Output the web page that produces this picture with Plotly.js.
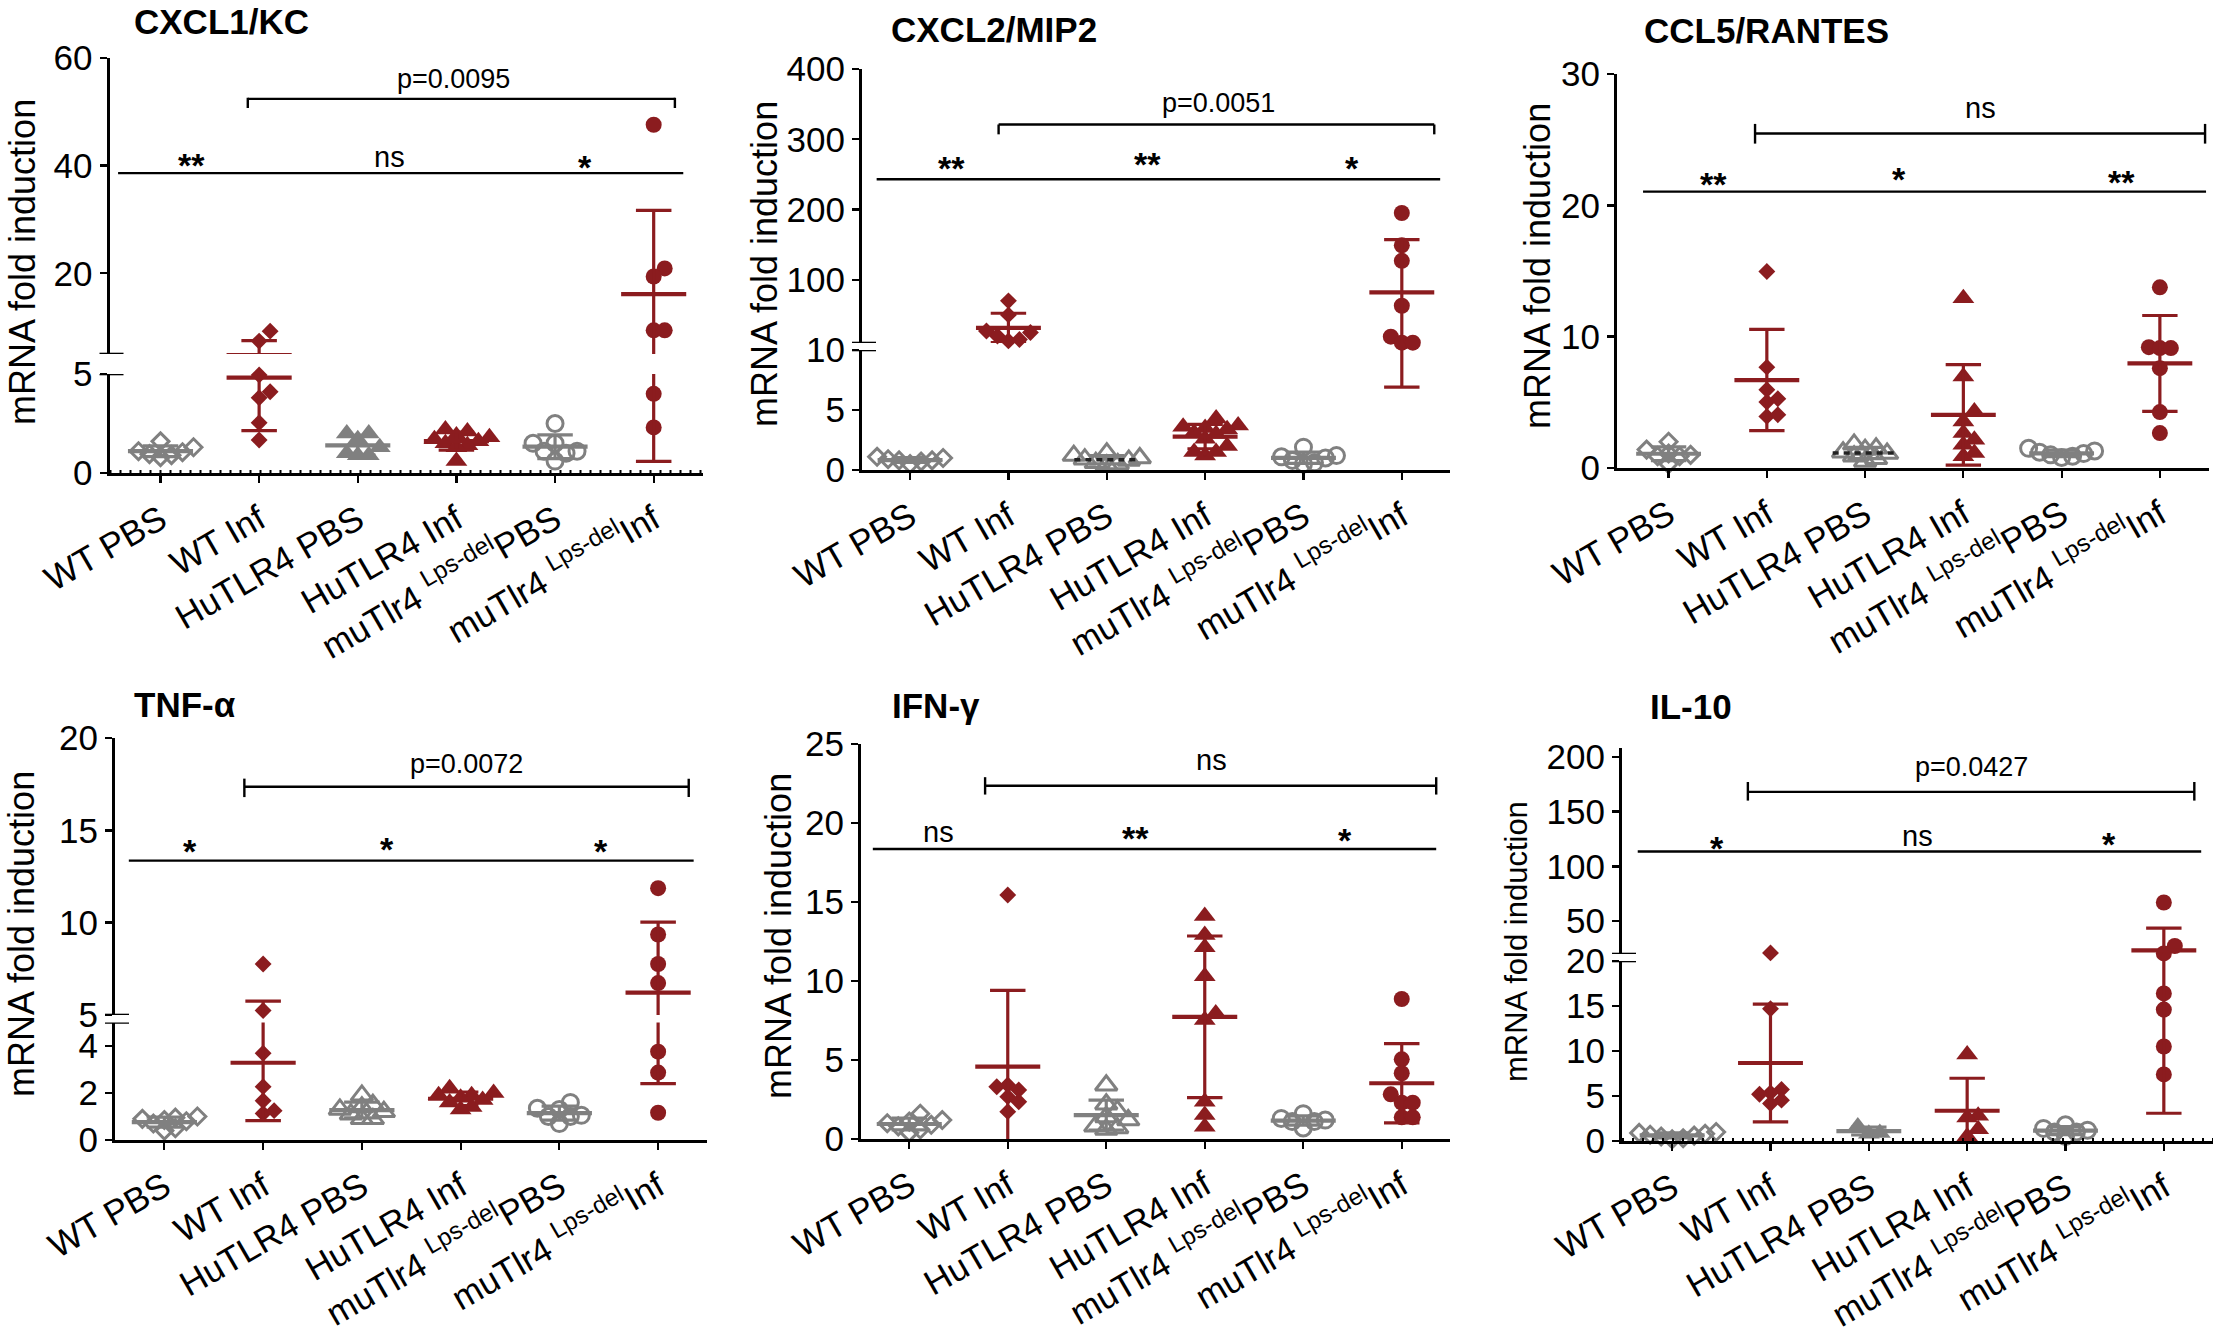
<!DOCTYPE html>
<html>
<head>
<meta charset="utf-8">
<script src="https://cdn.plot.ly/plotly-3.0.1.min.js"></script>
<style>
  html, body { margin: 0; padding: 0; background: #fff; }
  #grafico { width: 2215px; height: 1338px; }
</style>
</head>
<body>
<div id="grafico"></div>
<script>
/* ===================================================================
   Expresion de citocinas (mRNA fold induction) — 6 paneles tipo Prism
   =================================================================== */

const ANCHO = 2215, ALTO = 1338;
const ROJO = "#8b1c1f";
const GRIS = "#808080";
const FUENTE = "'Liberation Sans', Arial, sans-serif";

// ---------------------------------------------------------------------
// DATOS
// ---------------------------------------------------------------------
const grupos = ["WT PBS", "WT Inf", "HuTLR4 PBS", "HuTLR4 Inf", "muTlr4 Lps-del PBS", "muTlr4 Lps-del Inf"];
const etiquetasX = ["WT PBS", "WT Inf", "HuTLR4 PBS", "HuTLR4 Inf",
  "muTlr4 <sup>Lps-del</sup>PBS", "muTlr4 <sup>Lps-del</sup>Inf"];
const tituloY = "mRNA fold induction";

const cxcl1 = [
  [1.6, 1.3, 1.05, 1.1, 0.95, 0.8, 0.9],
  [9.25, 7.4, 4.95, 4.1, 3.8, 2.54, 1.67],
  [1.7, 2.0, 2.0, 1.0, 0.9, 0.9, 1.3],
  [2.2, 2.1, 1.9, 1.8, 1.7, 1.6, 1.5, 1.4, 1.3, 0.6],
  [2.5, 1.5, 1.5, 1.0, 1.1, 1.1, 0.6],
  [47.6, 20.9, 19.4, 9.4, 9.4, 4.0, 2.3],
];
const cxcl2 = [
  [1.1, 1.0, 0.9, 0.8, 0.8, 0.7, 0.5],
  [70, 50, 27, 25, 20, 15, 13],
  [1.4, 1.2, 1.0, 0.9, 0.8, 0.6, 0.5, 0.4],
  [4.3, 2.6, 1.2, 3.5, 2.0, 3.7, 1.5, 3.4, 1.5, 3.1, 3.0, 3.6],
  [1.9, 1.2, 1.1, 1.0, 0.8, 0.6, 0.5],
  [195, 149, 127, 63, 19, 10.5, 10.5],
];
const ccl5 = [
  [2.0, 1.4, 1.1, 0.9, 1.0, 0.9, 0.3],
  [14.96, 7.68, 5.96, 5.27, 5.02, 3.93, 4.06],
  [1.8, 1.5, 1.4, 1.2, 1.1, 0.9, 0.7, 0.5],
  [12.93, 6.97, 4.31, 3.55, 2.66, 2.15, 1.77, 0.89, 1.14],
  [1.5, 1.3, 1.2, 1.1, 1.0, 0.9, 0.8],
  [13.76, 9.2, 9.13, 9.13, 7.6, 4.26, 2.66],
];
const tnf = [
  [1.0, 0.95, 0.9, 0.85, 0.8, 0.7, 0.5, 0.4],
  [7.76, 5.24, 3.69, 2.27, 1.67, 1.13, 1.25],
  [1.9, 1.5, 1.4, 1.3, 1.2, 1.1, 0.9, 0.9],
  [2.2, 2.0, 1.9, 1.9, 1.8, 1.7, 1.6, 1.4, 1.3],
  [1.6, 1.35, 1.3, 1.05, 1.0, 1.0, 0.7],
  [11.87, 9.36, 7.76, 6.73, 3.76, 2.87, 1.16],
];
const ifng = [
  [1.6, 1.2, 1.1, 1.0, 0.9, 0.8, 0.6, 0.4],
  [15.44, 3.42, 3.31, 3.1, 2.68, 2.36, 1.73],
  [3.4, 2.2, 1.8, 1.4, 1.2, 0.8, 0.7, 0.6],
  [14.11, 12.91, 12.13, 10.3, 7.53, 7.95, 2.36, 1.52, 0.78],
  [1.6, 1.3, 1.1, 1.1, 1.2, 0.7],
  [8.86, 5.04, 4.16, 2.83, 2.3, 2.3, 1.37, 1.37],
];
const il10 = [
  [1.0, 0.9, 0.8, 0.7, 0.6, 0.5, 0.3, 0.2],
  [21, 14.7, 5.72, 5.35, 5.2, 4.54, 4.17],
  [1.6, 0.9, 0.8],
  [9.6, 2.8, 2.6, 1.3, 0.5],
  [1.8, 1.4, 1.2, 1.0, 1.0, 0.5],
  [67, 27.3, 20.5, 16.4, 14.6, 10.5, 7.4],
];

// marcas de significancia: tres comparaciones PBS vs Inf + WT Inf vs muTlr4 Inf
const sigCxcl1 = ["**", "ns", "*", "p=0.0095"];
const sigCxcl2 = ["**", "**", "*", "p=0.0051"];
const sigCcl5 = ["**", "*", "**", "ns"];
const sigTnf = ["*", "*", "*", "p=0.0072"];
const sigIfng = ["ns", "**", "*", "ns"];
const sigIl10 = ["*", "ns", "*", "p=0.0427"];

// ---------------------------------------------------------------------
// CONFIGURACION DE PANELES (posiciones en pixeles de la figura)
// ---------------------------------------------------------------------
const PANELES = [
  {
    titulo: "CXCL1/KC", datos: cxcl1, sig: sigCxcl1, huPbsAbierto: false, punteada: true, mediaOscura: false,
    px: [109.5, 703], rangoX: [-0.517, 5.5],
    segmentos: [
      { rango: [0, 5], px: [473, 374], ticks: [0, 5] },
      { rango: [5, 60], px: [354, 58], ticks: [20, 40, 60] },
    ],
    tituloPos: [132, 21], ejeYPos: [22, 262], tamEjeY: 36,
    linea: [-0.43, 5.30, 38.6], marcasX: [0.31, 2.32, 4.30], marcasY: [41.6, 41.6, 41.2],
    corchete: [0.885, 5.215, 52.4, 52.6, 50.7], pPos: [2.97, 56.1],
  },
  {
    titulo: "CXCL2/MIP2", datos: cxcl2, sig: sigCxcl2, huPbsAbierto: true, punteada: false, mediaOscura: true,
    px: [862, 1450], rangoX: [-0.489, 5.49],
    segmentos: [
      { rango: [0, 10], px: [470, 350], ticks: [0, 5, 10] },
      { rango: [10, 400], px: [343, 69], ticks: [100, 200, 300, 400] },
    ],
    tituloPos: [889, 30], ejeYPos: [764, 264], tamEjeY: 36,
    linea: [-0.34, 5.39, 243], marcasX: [0.42, 2.41, 4.49], marcasY: [271, 276, 271],
    corchete: [0.90, 5.33, 321, 321, 307], pPos: [3.14, 352],
  },
  {
    titulo: "CCL5/RANTES", datos: ccl5, sig: sigCcl5, huPbsAbierto: true, punteada: false, mediaOscura: true,
    px: [1617, 2209], rangoX: [-0.525, 5.5],
    segmentos: [
      { rango: [0, 30], px: [468, 74], ticks: [0, 10, 20, 30] },
    ],
    tituloPos: [1642, 31], ejeYPos: [1537, 266], tamEjeY: 36,
    linea: [-0.26, 5.47, 21.04], marcasX: [0.46, 2.35, 4.61], marcasY: [22.2, 22.6, 22.4],
    corchete: [0.88, 5.46, 25.47, 26.2, 24.7], pPos: [3.17, 27.4],
  },
  {
    titulo: "TNF-α", datos: tnf, sig: sigTnf, huPbsAbierto: true, punteada: false, mediaOscura: false,
    px: [115, 706.5], rangoX: [-0.50, 5.49],
    segmentos: [
      { rango: [0, 5], px: [1140, 1022.5], ticks: [0, 2, 4] },
      { rango: [5, 20], px: [1015, 738], ticks: [5, 10, 15, 20] },
    ],
    tituloPos: [132, 704], ejeYPos: [21, 934], tamEjeY: 36,
    linea: [-0.36, 5.36, 13.36], marcasX: [0.26, 2.25, 4.42], marcasY: [14.3, 14.4, 14.3],
    corchete: [0.81, 5.31, 17.36, 17.8, 16.8], pPos: [3.06, 18.6],
  },
  {
    titulo: "IFN-γ", datos: ifng, sig: sigIfng, huPbsAbierto: true, punteada: false, mediaOscura: false,
    px: [861, 1450], rangoX: [-0.49, 5.49],
    segmentos: [
      { rango: [0, 25], px: [1139, 744], ticks: [0, 5, 10, 15, 20, 25] },
    ],
    tituloPos: [890, 705], ejeYPos: [778, 936], tamEjeY: 36,
    linea: [-0.37, 5.35, 18.35], marcasX: [0.30, 2.30, 4.42], marcasY: [19.45, 19.56, 19.45],
    corchete: [0.77, 5.35, 22.36, 22.9, 21.8], pPos: [3.07, 24.0],
  },
  {
    titulo: "IL-10", datos: il10, sig: sigIl10, huPbsAbierto: false, punteada: true, mediaOscura: false,
    px: [1622, 2213], rangoX: [-0.51, 5.50],
    segmentos: [
      { rango: [0, 20], px: [1141, 961], ticks: [0, 5, 10, 15, 20] },
      { rango: [20, 208], px: [954, 748], ticks: [50, 100, 150, 200] },
    ],
    tituloPos: [1648, 706], ejeYPos: [1516, 942], tamEjeY: 31,
    linea: [-0.35, 5.38, 113.6], marcasX: [0.46, 2.5, 4.44], marcasY: [123.6, 128, 128],
    corchete: [0.77, 5.31, 168, 177, 160], pPos: [3.04, 191],
  },
];

// ---------------------------------------------------------------------
// UTILIDADES
// ---------------------------------------------------------------------
const media = (a) => a.reduce((s, v) => s + v, 0) / a.length;
const desvEst = (a) => {
  const m = media(a);
  return Math.sqrt(a.reduce((s, v) => s + (v - m) ** 2, 0) / (a.length - 1));
};

function aPixel(seg, v) {
  return seg.px[0] + ((v - seg.rango[0]) / (seg.rango[1] - seg.rango[0])) * (seg.px[1] - seg.px[0]);
}

function segmentoDe(panel, v) {
  return panel.segmentos.length === 1 || v <= panel.segmentos[0].rango[1] ? 0 : 1;
}

// reparte los puntos de un grupo (tipo "scatter dot plot" de Prism, con algo de solape)
function desplazamientos(panel, vals) {
  const pxPorCat = (panel.px[1] - panel.px[0]) / (panel.rangoX[1] - panel.rangoX[0]);
  const d = 11;
  const colocados = [];
  const off = new Array(vals.length).fill(0);
  const orden = vals.map((_, i) => i).sort((a, b) => vals[a] - vals[b]);
  orden.forEach((i) => {
    const y = aPixel(panel.segmentos[segmentoDe(panel, vals[i])], vals[i]);
    for (let k = 0; k < 15; k++) {
      const cx = k === 0 ? 0 : (k % 2 ? 1 : -1) * Math.ceil(k / 2) * d;
      if (colocados.every((c) => Math.hypot(c.x - cx, c.y - y) >= d * 0.95)) {
        colocados.push({ x: cx, y });
        off[i] = cx / pxPorCat;
        break;
      }
    }
  });
  return off;
}

function estiloMarcador(panel, g) {
  const color = g % 2 === 1 ? ROJO : GRIS;
  const forma = ["diamond", "diamond", "triangle-up", "triangle-up", "circle", "circle"][g];
  const tam = { diamond: 13, "triangle-up": 19, circle: 16 }[forma];
  const abierto = g === 0 || g === 4 || (g === 2 && panel.huPbsAbierto);
  return abierto
    ? { symbol: forma + "-open", size: tam, color, line: { color, width: 3 } }
    : { symbol: forma, size: tam, color, line: { width: 0 } };
}

// ---------------------------------------------------------------------
// CONSTRUCCION DE LA FIGURA
// ---------------------------------------------------------------------
const layout = {
  width: ANCHO, height: ALTO,
  margin: { l: 0, r: 0, t: 0, b: 0 },
  paper_bgcolor: "#ffffff", plot_bgcolor: "rgba(0,0,0,0)",
  showlegend: false,
  font: { family: FUENTE, color: "#000" },
  shapes: [], annotations: [],
};
const trazas = [];
let nY = 0;

PANELES.forEach((panel, k) => {
  const xRef = k === 0 ? "x" : "x" + (k + 1);
  const xClave = k === 0 ? "xaxis" : "xaxis" + (k + 1);
  const anchoPx = panel.px[1] - panel.px[0];

  const ejesY = panel.segmentos.map((seg) => {
    nY += 1;
    return { ref: nY === 1 ? "y" : "y" + nY, clave: nY === 1 ? "yaxis" : "yaxis" + nY, seg };
  });
  const ySup = ejesY[ejesY.length - 1].ref;

  layout[xClave] = {
    domain: [panel.px[0] / ANCHO, panel.px[1] / ANCHO],
    range: panel.rangoX, anchor: ejesY[0].ref,
    tickmode: "array", tickvals: grupos.map((_, i) => i), ticktext: etiquetasX,
    tickangle: -30, ticks: "outside", ticklen: 7, tickwidth: 2.2, tickcolor: "#000",
    ticklabelstandoff: 3,
    showline: true, linecolor: "#000", linewidth: 2.6,
    showgrid: false, zeroline: false,
    tickfont: { family: FUENTE, size: 35, color: "#000" },
  };

  ejesY.forEach(({ clave, seg }) => {
    layout[clave] = {
      domain: [1 - seg.px[0] / ALTO, 1 - seg.px[1] / ALTO],
      range: seg.rango, anchor: xRef,
      tickmode: "array", tickvals: seg.ticks, ticktext: seg.ticks.map(String),
      ticks: "outside", ticklen: 7, tickwidth: 2.4, tickcolor: "#000",
      showline: true, linecolor: "#000", linewidth: 3,
      showgrid: false, zeroline: false,
      tickfont: { family: FUENTE, size: 35, color: "#000" },
    };
  });

  // marcas de corte del eje (=)
  if (ejesY.length === 2) {
    [[ejesY[0].ref, ejesY[0].seg.rango[1]], [ejesY[1].ref, ejesY[1].seg.rango[0]]].forEach(([yr, v]) => {
      layout.shapes.push({
        type: "line", xref: xRef + " domain", yref: yr,
        x0: -10 / anchoPx, x1: 14 / anchoPx, y0: v, y1: v,
        line: { color: "#000", width: 2.6 },
      });
    });
  }

  // linea punteada en y = 0
  if (panel.punteada) {
    layout.shapes.push({
      type: "line", xref: xRef + " domain", yref: ejesY[0].ref,
      x0: 0, x1: 1, y0: 0, y1: 0,
      line: { color: "#000", width: 6, dash: "2px,8px" },
    });
  }

  // puntos, media y desviacion estandar
  panel.datos.forEach((vals, g) => {
    const color = g % 2 === 1 ? ROJO : GRIS;
    const off = desplazamientos(panel, vals);
    const m = media(vals), s = desvEst(vals);
    const lo = m - s, hi = m + s;
    const oscura = panel.mediaOscura && g === 2;

    ejesY.forEach(({ ref }, iSeg) => {
      const idx = vals.map((_, i) => i).filter((i) => segmentoDe(panel, vals[i]) === iSeg);
      if (idx.length) {
        trazas.push({
          type: "scatter", mode: "markers", xaxis: xRef, yaxis: ref,
          x: idx.map((i) => g + off[i]), y: idx.map((i) => vals[i]),
          marker: estiloMarcador(panel, g), cliponaxis: false,
          name: grupos[g], hoverinfo: "y",
        });
      }
      trazas.push({
        type: "scatter", mode: "lines", xaxis: xRef, yaxis: ref,
        x: [g, g, null, g - 0.18, g + 0.18, null, g - 0.18, g + 0.18],
        y: [lo, hi, null, lo, lo, null, hi, hi],
        line: { color, width: 3.2 }, hoverinfo: "skip",
      });
      trazas.push({
        type: "scatter", mode: "lines", xaxis: xRef, yaxis: ref,
        x: [g - 0.33, g + 0.33], y: [m, m],
        line: oscura ? { color: "#222", width: 3.5, dash: "6px,5px" } : { color, width: 4.2 },
        hoverinfo: "skip",
      });
    });
  });

  // titulo y etiqueta del eje Y
  layout.annotations.push({
    text: panel.titulo, xref: "paper", yref: "paper",
    x: panel.tituloPos[0] / ANCHO, y: 1 - panel.tituloPos[1] / ALTO,
    xanchor: "left", yanchor: "middle", align: "left", showarrow: false,
    font: { family: FUENTE, size: 35, weight: "bold", color: "#000" },
  });
  layout.annotations.push({
    text: tituloY, xref: "paper", yref: "paper", textangle: -90,
    x: panel.ejeYPos[0] / ANCHO, y: 1 - panel.ejeYPos[1] / ALTO,
    xanchor: "center", yanchor: "middle", showarrow: false,
    font: { family: FUENTE, size: panel.tamEjeY, color: "#000" },
  });

  // significancia
  const [lx0, lx1, ly] = panel.linea;
  layout.shapes.push({
    type: "line", xref: xRef, yref: ySup, x0: lx0, x1: lx1, y0: ly, y1: ly,
    line: { color: "#000", width: 2.4 },
  });
  const [cx0, cx1, cy, cyA, cyB] = panel.corchete;
  [[cx0, cy, cx1, cy], [cx0, cyA, cx0, cyB], [cx1, cyA, cx1, cyB]].forEach(([a, b, c, d]) => {
    layout.shapes.push({
      type: "line", xref: xRef, yref: ySup, x0: a, y0: b, x1: c, y1: d,
      line: { color: "#000", width: 2.4 },
    });
  });

  panel.sig.slice(0, 3).forEach((txt, i) => {
    const estrella = txt.includes("*");
    layout.annotations.push({
      text: txt, xref: xRef, yref: ySup,
      x: panel.marcasX[i], y: panel.marcasY[i], yshift: estrella ? -8 : 0,
      xanchor: "center", yanchor: "middle", showarrow: false,
      font: { family: FUENTE, size: estrella ? 34 : 29, weight: estrella ? "bold" : "normal", color: "#000" },
    });
  });
  layout.annotations.push({
    text: panel.sig[3], xref: xRef, yref: ySup,
    x: panel.pPos[0], y: panel.pPos[1],
    xanchor: "center", yanchor: "middle", showarrow: false,
    font: { family: FUENTE, size: panel.sig[3] === "ns" ? 29 : 27, color: "#000" },
  });
});

Plotly.newPlot("grafico", trazas, layout, { staticPlot: true, displayModeBar: false });
</script>
</body>
</html>
